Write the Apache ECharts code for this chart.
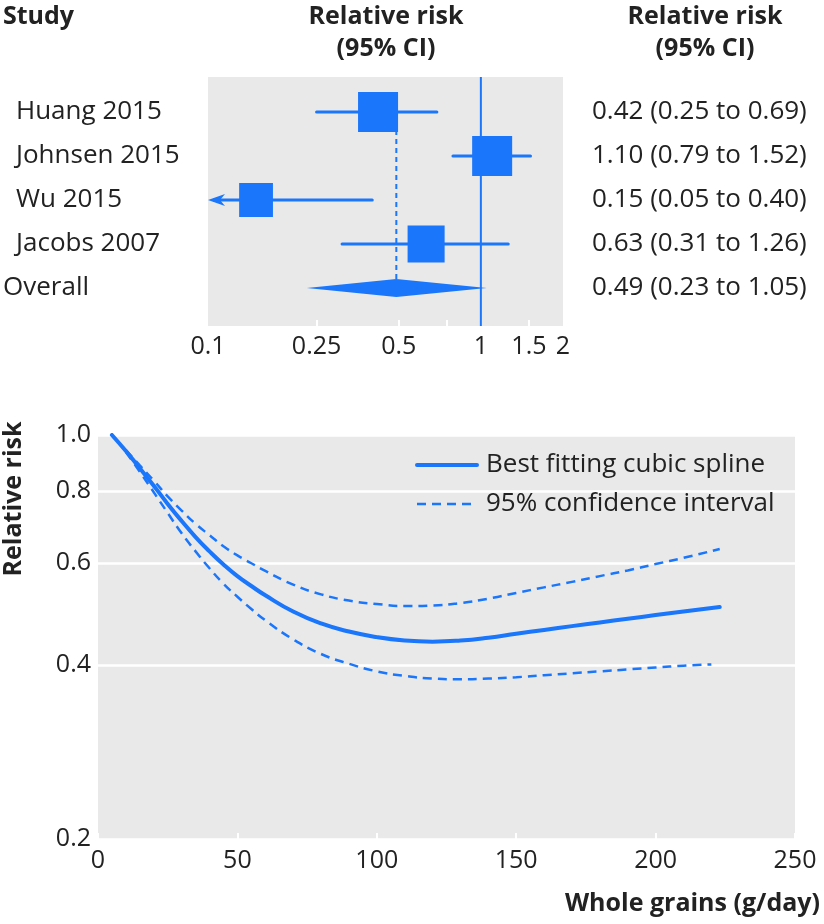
<!DOCTYPE html>
<html><head><meta charset="utf-8">
<script src="https://cdn.jsdelivr.net/npm/echarts@6/dist/echarts.min.js"></script>
<style>html,body{margin:0;padding:0;background:#fff}#c{width:824px;height:924px}</style>
</head><body><div id="c"></div>
<script>
// ---------- Forest plot data ----------
const studies = ['Huang 2015', 'Johnsen 2015', 'Wu 2015', 'Jacobs 2007'];
const studyRR = [0.42, 1.10, 0.15, 0.63];
const studyLower = [0.25, 0.79, 0.05, 0.31];
const studyUpper = [0.69, 1.52, 0.40, 1.26];
const studyWeight = [28, 28, 20, 24]; // estimated % weights (square area)
const overallLabel = 'Overall';
const overallRR = 0.49;
const overallLower = 0.23;
const overallUpper = 1.05;
const nullEffect = 1;
const forestTickLabels = [0.1, 0.25, 0.5, 1, 1.5, 2];
const forestTickMarks = [0.25, 0.5, 0.75, 1, 1.5];

// ---------- Dose-response data ----------
const splineGrains = [5, 10, 15, 20, 25, 30, 35, 40, 45, 50, 55, 60, 70, 80, 90, 100, 110, 120, 130, 140, 150, 160, 170, 180, 190, 200, 210, 223];
const splineRR = [1.000, 0.938, 0.876, 0.817, 0.760, 0.710, 0.666, 0.629, 0.597, 0.570, 0.548, 0.528, 0.495, 0.472, 0.457, 0.447, 0.441, 0.439, 0.441, 0.446, 0.453, 0.460, 0.467, 0.474, 0.481, 0.488, 0.495, 0.504];
const upperGrains = [10, 15, 20, 25, 30, 35, 40, 45, 50, 55, 60, 70, 80, 90, 100, 110, 120, 130, 140, 150, 160, 170, 180, 190, 200, 210, 223];
const upperCI = [0.942, 0.886, 0.834, 0.783, 0.740, 0.702, 0.671, 0.642, 0.619, 0.600, 0.582, 0.551, 0.530, 0.517, 0.510, 0.506, 0.507, 0.512, 0.521, 0.533, 0.545, 0.557, 0.570, 0.583, 0.598, 0.613, 0.635];
const lowerGrains = [10, 15, 20, 25, 30, 35, 40, 45, 50, 55, 60, 70, 80, 90, 100, 110, 120, 130, 140, 150, 160, 170, 180, 190, 200, 210, 220];
const lowerCI = [0.934, 0.864, 0.796, 0.733, 0.676, 0.629, 0.588, 0.553, 0.525, 0.500, 0.478, 0.443, 0.418, 0.402, 0.390, 0.383, 0.379, 0.378, 0.379, 0.381, 0.384, 0.387, 0.390, 0.393, 0.396, 0.399, 0.401];
const rrTicks = [0.2, 0.4, 0.6, 0.8, 1.0];

// ---------- styling ----------
const BLUE = '#1a76fb';
const GREY = '#e9e9e9';
const TXT = '#222222';
const FONT = "'Open Sans', sans-serif";
const FS = 25;
const FS_ROW = 26;

const rows = studies.concat([overallLabel]);
const pair = (xs, ys) => xs.map((x, i) => [x, ys[i]]);
const fmt2 = v => v.toFixed(2);
const ciText = i => i < studies.length
  ? `${fmt2(studyRR[i])} (${fmt2(studyLower[i])} to ${fmt2(studyUpper[i])})`
  : `${fmt2(overallRR)} (${fmt2(overallLower)} to ${fmt2(overallUpper)})`;

const chart = echarts.init(document.getElementById('c'), null, {renderer: 'canvas'});

const option = {
  animation: false,
  textStyle: {fontFamily: FONT, color: TXT},
  grid: [
    {left: 208, width: 355, top: 77, height: 249, show: true, backgroundColor: GREY, borderWidth: 0},
    {left: 208, width: 355, top: 90, height: 220},
    {left: 98, width: 697, top: 435, height: 404, show: true, backgroundColor: GREY, borderWidth: 0}
  ],
  xAxis: [
    {type: 'log', gridIndex: 0, min: 0.1, max: 2, logBase: 10,
     axisLine: {show: false},
     axisTick: {show: true, inside: true, length: 6, lineStyle: {color: '#fff', width: 2}, customValues: forestTickMarks},
     axisLabel: {show: true, customValues: forestTickLabels, margin: 8, fontSize: FS, color: TXT, fontFamily: FONT,
       formatter: v => String(parseFloat(Number(v).toPrecision(3)))},
     splitLine: {show: false}},
    {type: 'log', gridIndex: 1, min: 0.1, max: 2, logBase: 10, show: false, splitLine: {show: false}},
    {type: 'value', gridIndex: 2, min: 0, max: 250, interval: 50,
     axisLine: {show: false},
     axisTick: {show: true, inside: true, length: 6, lineStyle: {color: '#fff', width: 2}},
     axisLabel: {margin: 9, fontSize: FS, color: TXT, fontFamily: FONT},
     splitLine: {show: false},
     name: 'Whole grains (g/day)', nameLocation: 'end', nameGap: 25,
     nameTextStyle: {fontWeight: 'bold', fontSize: FS, color: TXT, fontFamily: FONT, align: 'right', verticalAlign: 'top', padding: [52, 0, 0, 0]}}
  ],
  yAxis: [
    {type: 'value', gridIndex: 0, min: 0, max: 1, show: false},
    {type: 'category', gridIndex: 1, data: rows, inverse: true, position: 'left',
     axisLine: {show: false}, axisTick: {show: false}, splitLine: {show: false},
     axisLabel: {interval: 0, align: 'left', margin: 205, fontSize: FS_ROW, color: TXT, fontFamily: FONT,
       formatter: v => v === overallLabel ? '{o|' + v + '}' : '{s|' + v + '}',
       rich: {o: {fontSize: FS_ROW, color: TXT, fontFamily: FONT}, s: {fontSize: FS_ROW, color: TXT, fontFamily: FONT, padding: [0, 0, 0, 13]}}}},
    {type: 'category', gridIndex: 1, data: rows, inverse: true, position: 'right',
     axisLine: {show: false}, axisTick: {show: false}, splitLine: {show: false},
     axisLabel: {interval: 0, align: 'left', margin: 29, fontSize: FS_ROW, color: TXT, fontFamily: FONT,
       formatter: (v, i) => ciText(i)}},
    {type: 'log', gridIndex: 2, min: 0.2, max: 1.0, logBase: 10,
     axisLine: {show: false}, axisTick: {show: false, customValues: rrTicks},
     axisLabel: {customValues: rrTicks, margin: 7, fontSize: FS, color: TXT, fontFamily: FONT,
       formatter: v => Number(v).toFixed(1)},
     splitLine: {show: true, lineStyle: {color: '#fff', width: 2.5}}}
  ],
  legend: {
    orient: 'vertical', left: 415, top: 450, padding: 0, itemGap: 9,
    itemWidth: 60, itemHeight: 14,
    itemStyle: {opacity: 0},
    lineStyle: {width: 'inherit'},
    data: ['Best fitting cubic spline', '95% confidence interval'],
    textStyle: {fontSize: FS_ROW, color: TXT, fontFamily: FONT, lineHeight: 30, padding: [0, 0, 0, 4]}
  },
  graphic: [
    {type: 'text', x: 3, y: 1, style: {text: 'Study', font: `bold ${FS}px ${FONT}`, fill: TXT, textVerticalAlign: 'top', lineHeight: 32}},
    {type: 'text', x: 386, y: 1, style: {text: 'Relative risk\n(95% CI)', font: `bold ${FS}px ${FONT}`, fill: TXT, textAlign: 'center', textVerticalAlign: 'top', lineHeight: 32}},
    {type: 'text', x: 705, y: 1, style: {text: 'Relative risk\n(95% CI)', font: `bold ${FS}px ${FONT}`, fill: TXT, textAlign: 'center', textVerticalAlign: 'top', lineHeight: 32}},
    {type: 'text', x: 14, y: 499, rotation: Math.PI / 2, style: {text: 'Relative risk', font: `bold ${FS}px ${FONT}`, fill: TXT, textAlign: 'center', textVerticalAlign: 'middle'}}
  ],
  series: [
    // line of no effect
    {type: 'line', xAxisIndex: 0, yAxisIndex: 0, data: [[nullEffect, 0], [nullEffect, 1]], symbol: 'none',
     lineStyle: {color: BLUE, width: 2}, z: 3, silent: true},
    // dashed line at pooled estimate
    {type: 'line', xAxisIndex: 1, yAxisIndex: 1, data: [[overallRR, 0], [overallRR, rows.length - 1]], symbol: 'none',
     lineStyle: {color: BLUE, width: 2, type: [5, 4]}, z: 2, silent: true},
    // study squares + CIs
    {type: 'custom', xAxisIndex: 1, yAxisIndex: 1, z: 4, clip: false,
     data: studies.map((s, i) => [studyRR[i], i, studyLower[i], studyUpper[i], studyWeight[i]]),
     encode: {x: 0, y: 1},
     renderItem: (params, api) => {
       const idx = api.value(1);
       const c = api.coord([api.value(0), idx]);
       const lo = api.value(2), hi = api.value(3);
       const xMin = 0.1;
       const clipped = lo < xMin;
       const pLo = api.coord([clipped ? xMin : lo, idx]);
       const pHi = api.coord([hi, idx]);
       const side = Math.sqrt(api.value(4)) * 7.56;
       const st = {stroke: BLUE, lineWidth: 3, lineCap: 'round'};
       const children = [
         {type: 'line', shape: {x1: pLo[0] + (clipped ? 6 : 0), y1: c[1], x2: pHi[0], y2: c[1]}, style: st},
         {type: 'rect', shape: {x: c[0] - side / 2, y: c[1] - side / 2, width: side, height: side}, style: {fill: BLUE}}
       ];
       if (clipped) {
         children.push({type: 'polygon', shape: {points: [[pLo[0], c[1]], [pLo[0] + 17, c[1] - 6], [pLo[0] + 12, c[1]], [pLo[0] + 17, c[1] + 6]]}, style: {fill: BLUE}});
       }
       return {type: 'group', children};
     }},
    // overall diamond
    {type: 'custom', xAxisIndex: 1, yAxisIndex: 1, z: 4, clip: false,
     data: [[overallRR, rows.length - 1, overallLower, overallUpper]],
     encode: {x: 0, y: 1},
     renderItem: (params, api) => {
       const idx = api.value(1);
       const c = api.coord([api.value(0), idx]);
       const l = api.coord([api.value(2), idx]);
       const r = api.coord([api.value(3), idx]);
       const h = 9;
       return {type: 'polygon', shape: {points: [[l[0], c[1]], [c[0], c[1] - h], [r[0], c[1]], [c[0], c[1] + h]]}, style: {fill: BLUE}};
     }},
    // dose-response curves
    {name: 'Best fitting cubic spline', type: 'line', xAxisIndex: 2, yAxisIndex: 3, data: pair(splineGrains, splineRR),
     symbol: 'none', smooth: 0.5, lineStyle: {color: BLUE, width: 4, cap: 'round'}, itemStyle: {color: BLUE}, z: 5},
    {name: '95% confidence interval', type: 'line', xAxisIndex: 2, yAxisIndex: 3, data: pair(upperGrains, upperCI),
     symbol: 'none', smooth: 0.5, lineStyle: {color: BLUE, width: 2.5, type: [9, 6]}, itemStyle: {color: BLUE}, z: 5},
    {name: '95% confidence interval', type: 'line', xAxisIndex: 2, yAxisIndex: 3, data: pair(lowerGrains, lowerCI),
     symbol: 'none', smooth: 0.5, lineStyle: {color: BLUE, width: 2.5, type: [9, 6]}, itemStyle: {color: BLUE}, z: 5}
  ]
};
chart.setOption(option);
</script>
</body></html>
